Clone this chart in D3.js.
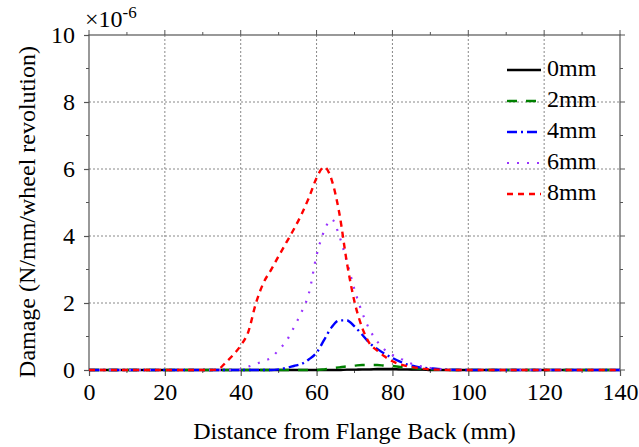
<!DOCTYPE html>
<html>
<head>
<meta charset="utf-8">
<script src="https://cdn.jsdelivr.net/npm/d3@7"></script>
</head>
<body style="margin:0">
<svg id="s" width="639" height="447"></svg>
<div id="h" style="position:absolute;left:0;top:0"></div>
<script>
// ---- data (damage in units of 1e-6 N/mm/wheel revolution) ----
const distance = [0, 10, 20,
  30, 32, 34, 36, 38, 40, 42, 44, 46, 48, 50, 52, 54, 56, 58, 60, 62, 64, 66, 68, 70, 72, 74, 76, 78, 80, 82, 84, 86, 88, 90, 92,
  95, 100, 110, 120, 130, 140];
const seriesNames = ["0mm", "2mm", "4mm", "6mm", "8mm"];
const damage0mm = [0, 0, 0,
  0, 0, 0, 0, 0, 0, 0, 0, 0, 0, 0, 0, 0, 0, 0, 0, 0, 0, 0, 0.01, 0.01, 0.02, 0.02, 0.03, 0.03, 0.03, 0.02, 0.02, 0.01, 0.01, 0, 0,
  0, 0, 0, 0, 0, 0];
const damage2mm = [0, 0, 0,
  0, 0, 0, 0, 0, 0, 0, 0, 0, 0, 0, 0, 0, 0, 0, 0, 0.02, 0.05, 0.08, 0.11, 0.13, 0.15, 0.15, 0.15, 0.13, 0.12, 0.09, 0.07, 0.05, 0.03, 0.02, 0.01,
  0, 0, 0, 0, 0, 0];
const damage4mm = [0, 0, 0,
  0, 0, 0, 0, 0, 0, 0, 0, 0, 0, 0.02, 0.06, 0.12, 0.18, 0.32, 0.52, 0.9, 1.28, 1.48, 1.48, 1.3, 1.06, 0.8, 0.63, 0.48, 0.36, 0.25, 0.16, 0.11, 0.07, 0.05, 0.03,
  0.01, 0, 0, 0, 0, 0];
const damage6mm = [0, 0, 0,
  0, 0, 0, 0, 0, 0.02, 0.1, 0.18, 0.27, 0.36, 0.6, 0.86, 1.27, 1.72, 2.3, 3.42, 4.15, 4.5, 4.0, 3.23, 2.4, 1.72, 1.2, 0.85, 0.6, 0.45, 0.35, 0.23, 0.15, 0.1, 0.06, 0.03,
  0.01, 0, 0, 0, 0, 0];
const damage8mm = [0, 0, 0,
  0, 0, 0.02, 0.22, 0.45, 0.73, 1.14, 1.99, 2.6, 2.99, 3.4, 3.8, 4.2, 4.64, 5.15, 5.73, 6.06, 5.67, 4.68, 3.2, 2.04, 1.27, 0.79, 0.58, 0.4, 0.26, 0.17, 0.11, 0.07, 0.04, 0.02, 0.01,
  0, 0, 0, 0, 0, 0];
const xTicks = [0, 20, 40, 60, 80, 100, 120, 140];
const yTicks = [0, 2, 4, 6, 8, 10];
const xLabel = "Distance from Flange Back (mm)";
const yLabel = "Damage (N/mm/wheel revolution)";

// ---- styles ----
const FONT = "Liberation Serif";
const styles = [
  { color: "#000000", dash: null, width: 2.4 },
  { color: "#008000", dash: "10,9", width: 2.4 },
  { color: "#0000ff", dash: "10,4,2,4", width: 2.4 },
  { color: "#9933ff", dash: "2,8", width: 2.2 },
  { color: "#ff0000", dash: "6,5", width: 2.4 }
];
const allSeries = [damage0mm, damage2mm, damage4mm, damage6mm, damage8mm];

const W = 639, H = 447;
const margin = { left: 89, right: 19, top: 35, bottom: 77 };
const iw = W - margin.left - margin.right;
const ih = H - margin.top - margin.bottom;

const svg = d3.select("#s");
const g = svg.append("g").attr("transform", `translate(${margin.left},${margin.top})`);

const x = d3.scaleLinear().domain([0, 140]).range([0, iw]);
const y = d3.scaleLinear().domain([0, 10]).range([ih, 0]);

// grid
g.append("g").selectAll("line").data(xTicks.filter(v => v > 0 && v < 140)).join("line")
  .attr("x1", d => x(d)).attr("x2", d => x(d)).attr("y1", 0).attr("y2", ih)
  .attr("stroke", "#888").attr("stroke-width", 1).attr("stroke-dasharray", "2,2");
g.append("g").selectAll("line").data(yTicks.filter(v => v > 0 && v < 10)).join("line")
  .attr("y1", d => y(d)).attr("y2", d => y(d)).attr("x1", 0).attr("x2", iw)
  .attr("stroke", "#888").attr("stroke-width", 1).attr("stroke-dasharray", "2,2");

// frame
g.append("rect").attr("x", 0).attr("y", 0).attr("width", iw).attr("height", ih)
  .attr("fill", "none").attr("stroke", "#555").attr("stroke-width", 1.2);

// minor ticks
const xMinor = d3.range(10, 140, 20);
const yMinor = d3.range(1, 10, 2);
const tickStroke = "#555";
g.append("g").selectAll("line").data(xMinor).join("line")
  .attr("x1", d => x(d)).attr("x2", d => x(d)).attr("y1", ih).attr("y2", ih + 3)
  .attr("stroke", tickStroke);
g.append("g").selectAll("line").data(xMinor).join("line")
  .attr("x1", d => x(d)).attr("x2", d => x(d)).attr("y1", 0).attr("y2", -3)
  .attr("stroke", tickStroke);
g.append("g").selectAll("line").data(yMinor).join("line")
  .attr("y1", d => y(d)).attr("y2", d => y(d)).attr("x1", 0).attr("x2", -3)
  .attr("stroke", tickStroke);
g.append("g").selectAll("line").data(yMinor).join("line")
  .attr("y1", d => y(d)).attr("y2", d => y(d)).attr("x1", iw).attr("x2", iw + 3)
  .attr("stroke", tickStroke);

// axes
const xAxis = d3.axisBottom(x).tickValues(xTicks).tickSize(6).tickPadding(7).tickFormat(d3.format("d"));
const yAxis = d3.axisLeft(y).tickValues(yTicks).tickSize(5).tickPadding(9).tickFormat(d3.format("d"));
const gx = g.append("g").attr("transform", `translate(0,${ih})`).call(xAxis);
const gy = g.append("g").call(yAxis);
[gx, gy].forEach(a => {
  a.attr("font-family", FONT).attr("font-size", 24);
  a.select(".domain").remove();
  a.selectAll(".tick line").attr("stroke", tickStroke).attr("stroke-width", 1.2);
  a.selectAll("text").attr("fill", "#000");
});
// top / right major ticks
g.append("g").selectAll("line").data(xTicks).join("line")
  .attr("x1", d => x(d)).attr("x2", d => x(d)).attr("y1", 0).attr("y2", -5).attr("stroke", tickStroke);
g.append("g").selectAll("line").data(yTicks).join("line")
  .attr("y1", d => y(d)).attr("y2", d => y(d)).attr("x1", iw).attr("x2", iw + 5).attr("stroke", tickStroke);

// lines
svg.append("clipPath").attr("id", "clip").append("rect")
  .attr("x", -2).attr("y", -2).attr("width", iw + 4).attr("height", ih + 4);
const line = d3.line().x((d, i) => x(distance[i])).y(d => y(d)).curve(d3.curveMonotoneX);
const lines = g.append("g").attr("clip-path", "url(#clip)");
allSeries.forEach((vals, k) => {
  lines.append("path").datum(vals).attr("d", line)
    .attr("fill", "none").attr("stroke", styles[k].color)
    .attr("stroke-width", styles[k].width)
    .attr("stroke-dasharray", styles[k].dash)
    .attr("stroke-linejoin", "round");
});

// legend
const legend = g.append("g");
const legX0 = 507 - margin.left, legX1 = 541 - margin.left, legTextX = 547 - margin.left;
const legY = [70, 101, 132, 163, 194].map(v => v - margin.top);
seriesNames.forEach((name, k) => {
  legend.append("line").attr("x1", legX0).attr("x2", legX1).attr("y1", legY[k]).attr("y2", legY[k])
    .attr("stroke", styles[k].color).attr("stroke-width", styles[k].width)
    .attr("stroke-dasharray", styles[k].dash);
  legend.append("text").attr("x", legTextX).attr("y", legY[k]).attr("dy", "0.27em")
    .attr("font-family", FONT).attr("font-size", 24).text(name);
});

// exponent label
const expo = svg.append("text").attr("x", 85).attr("y", 27).attr("font-size", 24)
  .attr("font-family", FONT);
expo.append("tspan").text("\u00d710");
expo.append("tspan").attr("dy", -9).attr("font-size", 17).text("-6");

// axis titles
svg.append("text").attr("x", margin.left + iw / 2).attr("y", 439).attr("text-anchor", "middle")
  .attr("font-family", FONT).attr("font-size", 24).text(xLabel);
svg.append("text").attr("transform", `translate(35,212) rotate(-90)`)
  .attr("text-anchor", "middle").attr("font-family", FONT).attr("font-size", 24).text(yLabel);
</script>
</body>
</html>
